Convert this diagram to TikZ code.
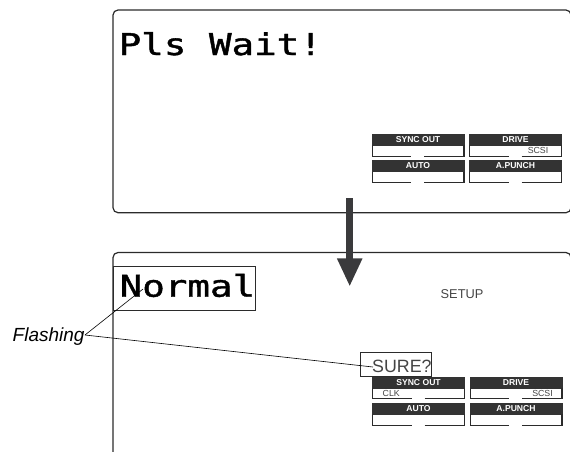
\documentclass[tikz,border=0pt]{standalone}
\usepackage{fontspec}
\setmainfont{Liberation Sans}
\newfontfamily\lcdfont[FakeBold=1.2]{DejaVu Sans Mono}
\usetikzlibrary{arrows.meta}
\definecolor{ink}{HTML}{2B2B2B}
\definecolor{hdr}{HTML}{333333}
\definecolor{arrowgray}{HTML}{3A3A3C}
\definecolor{txtgray}{HTML}{444444}
\tikzset{
  panel/.style={draw=ink, line width=1.2pt, rounded corners=5pt, inner sep=0pt, outer sep=0pt, anchor=north west},
  lcdtext/.style={font=\lcdfont\fontsize{30}{30}\selectfont, inner sep=0pt, anchor=base west},
  hdrbox/.style={fill=hdr, draw=hdr, line width=0.4pt, minimum width=92pt, minimum height=11pt, inner sep=0pt, outer sep=0pt, anchor=north west, text=white, font=\bfseries\fontsize{8.6}{8.6}\selectfont},
  btnline/.style={draw=ink, line width=0.8pt},
  btnright/.style={draw=ink, line width=1.3pt},
  smalltext/.style={text=txtgray, inner sep=0pt, font=\fontsize{8.8}{8.8}\selectfont},
  thinbox/.style={draw=ink, line width=0.8pt, inner sep=0pt, outer sep=0pt, anchor=north west},
  leader/.style={draw=black, line width=0.6pt},
  bigarrow/.style={draw=arrowgray, line width=7.3pt, -{Triangle[width=23.4pt,length=28.4pt]}}
}
\newcommand{\ctrlbtn}[4]{%
  \node[hdrbox] (#3) at (#1,#2) {#4};
  \draw[btnline] (#3.south west) -- ++(0,11) -- ++(39,0);
  \draw[btnline] ([shift={(-40,11)}]#3.south east) -- ++(40,0);
  \draw[btnright] (#3.south east) -- ++(0,11.5);
}
\begin{document}
\begin{tikzpicture}[x=1pt,y=-1pt]
\useasboundingbox (0,0) rectangle (570,451);
\clip (0,0) rectangle (570,451);

% panels
\node[panel, minimum width=458pt, minimum height=202.7pt] (toppanel) at (113,10) {};
\node[panel, minimum width=458pt, minimum height=240pt] (botpanel) at (113,252.5) {};

% top panel content
\node[lcdtext] (wait) at (118.5,55) {\scalebox{1.25}[1]{Pls Wait!}};
\ctrlbtn{372}{134}{tsync}{SYNC OUT}
\ctrlbtn{469.5}{134}{tdrive}{DRIVE}
\ctrlbtn{372}{160.5}{tauto}{AUTO}
\ctrlbtn{469.5}{160.5}{tpunch}{A.PUNCH}
\node[smalltext, anchor=east] (tscsi) at ([shift={(-13,5.5)}]tdrive.south east) {SCSI};

% bottom panel content
\node[thinbox, minimum width=142pt, minimum height=44pt] (nbox) at (113,266) {};
\node[lcdtext] (normal) at (119.5,296.7) {\scalebox{1.25}[1]{Normal}};
\node[text=txtgray, inner sep=0pt, anchor=base west, font=\fontsize{12.8}{12.8}\selectfont] (setup) at (440.5,298.3) {SETUP};
\node[thinbox, minimum width=71.7pt, minimum height=23.3pt] (surebox) at (360,352.7) {};
\node[text=txtgray, inner sep=0pt, anchor=base west, font=\fontsize{17.8}{17.8}\selectfont] (sure) at (372,372.3) {SURE?};
\ctrlbtn{372.5}{376.7}{bsync}{SYNC OUT}
\ctrlbtn{470}{376.7}{bdrive}{DRIVE}
\ctrlbtn{372.5}{403.2}{bauto}{AUTO}
\ctrlbtn{470}{403.2}{bpunch}{A.PUNCH}
\node[smalltext, anchor=west] (clk) at ([shift={(10,5.5)}]bsync.south west) {CLK};
\node[smalltext, anchor=east] (bscsi) at ([shift={(-9,5.5)}]bdrive.south east) {SCSI};

% flashing label and leaders
\node[inner sep=0pt, anchor=base west, font=\itshape\fontsize{19}{19}\selectfont] (flash) at (12.5,341.7) {Flashing};
\coordinate (flashend) at (85,335);
\coordinate (normalpt) at (143,289);
\coordinate (surept) at (373,367);
\draw[leader] (flashend) -- (normalpt);
\draw[leader] (flashend) -- (surept);

% big arrow
\coordinate (arrstart) at (349.7,198.3);
\coordinate (arrend) at (349.7,286.7);
\draw[bigarrow] (arrstart) -- (arrend);
\end{tikzpicture}
\end{document}
